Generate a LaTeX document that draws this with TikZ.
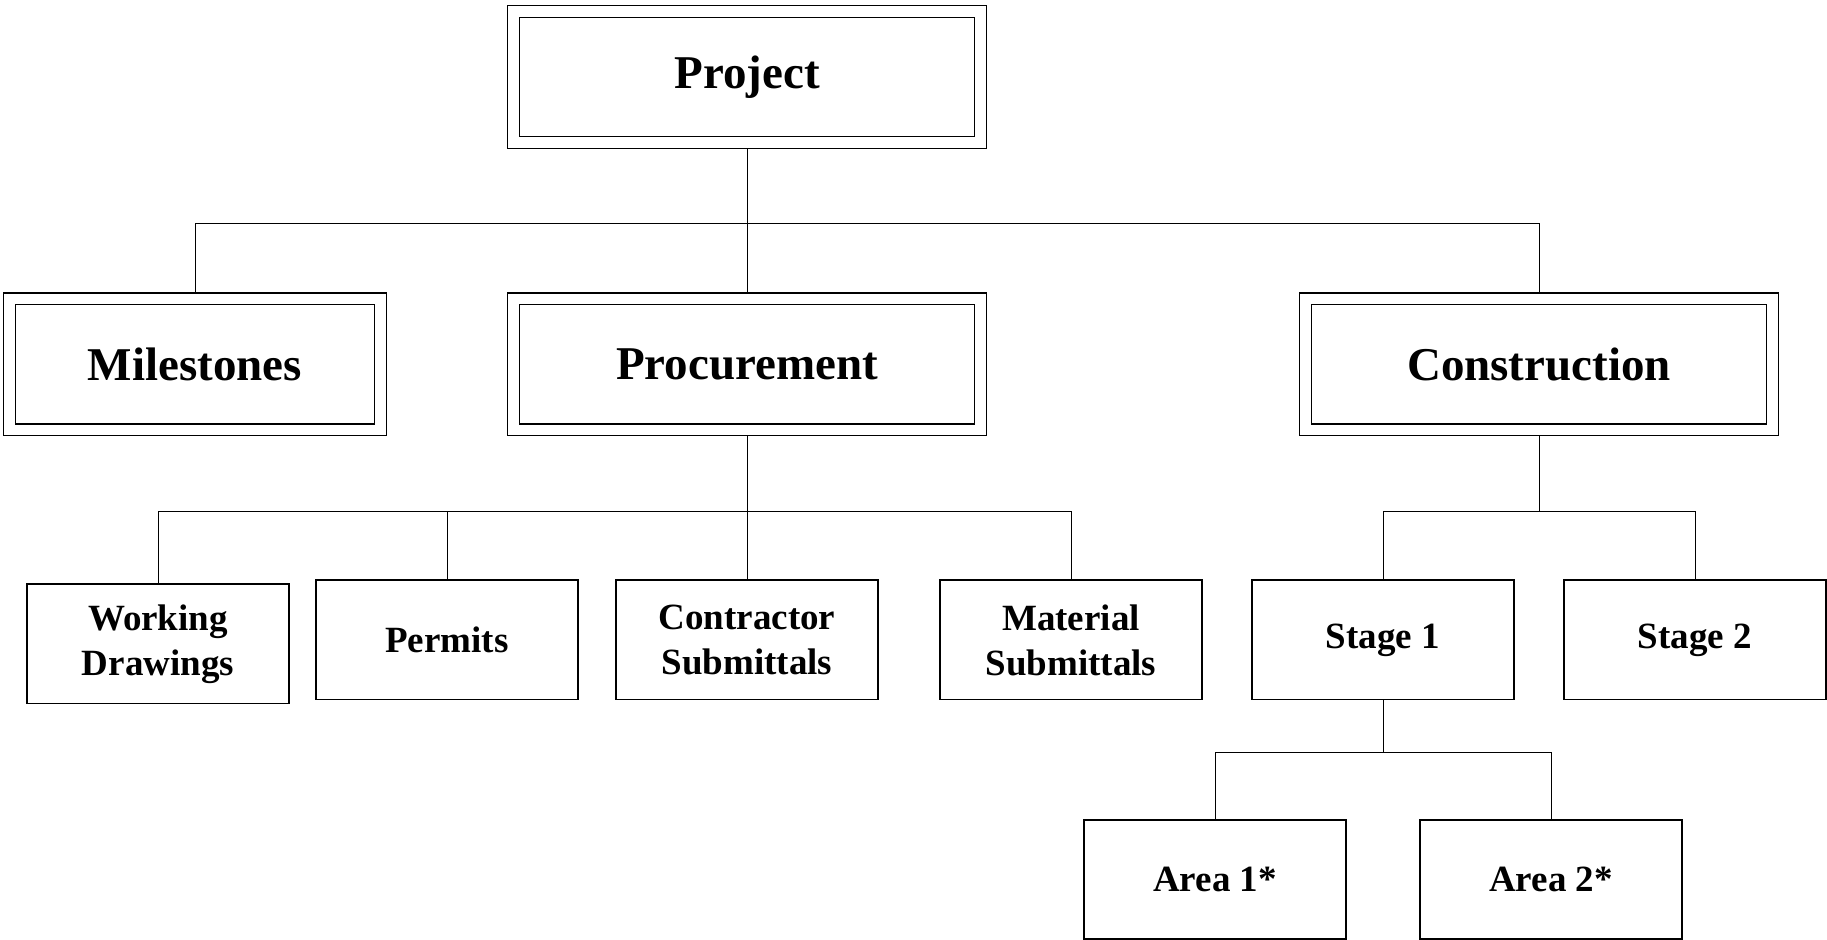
\documentclass[tikz,border=0pt]{standalone}
\usepackage{fontspec}
\setmainfont{Liberation Serif}

\begin{document}
\begin{tikzpicture}[x=0.5pt,y=-0.5pt,
  bigbox/.style={draw,line width=0.6pt,double,double distance=5.3pt,
    minimum width=233.5pt,minimum height=65.5pt,inner sep=0pt,outer sep=3.25pt,
    font=\fontsize{23.5}{28}\selectfont\bfseries},
  smallbox/.style={draw,line width=0.9pt,minimum width=131pt,minimum height=59.6pt,
    inner sep=0pt,align=center,font=\fontsize{18.5}{22.5}\selectfont\bfseries},
  link/.style={line width=0.5pt}]
\useasboundingbox (0,0) rectangle (1827,940);

\node[bigbox] (project) at (747,77) {Project};
\node[bigbox,minimum width=185.25pt] (miles) at (195,364.5) {Milestones};
\node[bigbox] (procure) at (747,364.5) {Procurement};
\node[bigbox] (constr) at (1539,364.5) {Construction};

\node[smallbox] (wd) at (158,644) {Working\\Drawings};
\node[smallbox] (perm) at (447,640) {Permits};
\node[smallbox] (contr) at (747,640) {Contractor\\Submittals};
\node[smallbox] (mat) at (1071,640) {Material\\Submittals};
\node[smallbox] (st1) at (1383,640) {Stage 1};
\node[smallbox] (st2) at (1695,640) {Stage 2};
\node[smallbox] (a1) at (1215,879.5) {Area 1*};
\node[smallbox] (a2) at (1551,879.5) {Area 2*};

\coordinate (top) at (747,224);
\draw[link] (project.south) -- (top);
\foreach \n in {miles,procure,constr}
  \draw[link] (\n.north) |- (top);

\coordinate (mid) at (747,512);
\draw[link] (procure.south) -- (mid);
\foreach \n in {wd,perm,contr,mat}
  \draw[link] (\n.north) |- (mid);

\coordinate (right) at (1539,512);
\draw[link] (constr.south) -- (right);
\foreach \n in {st1,st2}
  \draw[link] (\n.north) |- (right);

\coordinate (low) at (1383,753);
\draw[link] (st1.south) -- (low);
\foreach \n in {a1,a2}
  \draw[link] (\n.north) |- (low);
\end{tikzpicture}
\end{document}
